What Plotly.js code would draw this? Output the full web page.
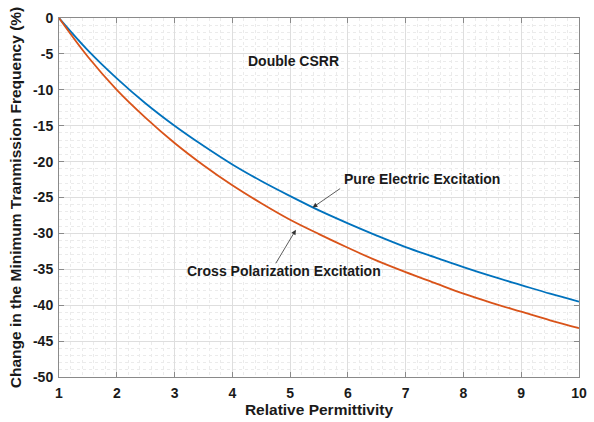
<!DOCTYPE html>
<html>
<head>
<meta charset="utf-8">
<script src="https://cdn.plot.ly/plotly-3.0.1.min.js"></script>
<style>html,body{margin:0;padding:0;background:#fff;}#chart{width:594px;height:422px;}</style>
</head>
<body>
<div id="chart"></div>
<script>
const permittivity = [1, 1.5, 2, 2.5, 3, 3.5, 4, 4.5, 5, 5.5, 6, 6.5, 7, 7.5, 8, 8.5, 9, 9.5, 10];
const pureElectric = [0, -4.5, -8.4, -11.9, -15.0, -17.8, -20.4, -22.7, -24.8, -26.8, -28.6, -30.3, -31.9, -33.3, -34.7, -36.0, -37.2, -38.4, -39.5];
const crossPolarization = [0, -5.4, -10.0, -13.9, -17.4, -20.5, -23.3, -25.8, -28.1, -30.1, -32.0, -33.8, -35.4, -36.9, -38.4, -39.7, -40.9, -42.1, -43.2];
const xTicks = [1, 2, 3, 4, 5, 6, 7, 8, 9, 10];
const yTicks = [0, -5, -10, -15, -20, -25, -30, -35, -40, -45, -50];

const font = 'Arial, "Liberation Sans", sans-serif';
const traces = [
  {x: permittivity, y: pureElectric, mode: 'lines', line: {color: '#0072BD', width: 1.8, shape: 'spline'}, name: 'Pure Electric Excitation'},
  {x: permittivity, y: crossPolarization, mode: 'lines', line: {color: '#D95319', width: 1.8, shape: 'spline'}, name: 'Cross Polarization Excitation'}
];
const axisCommon = {
  showline: true, linecolor: '#8a8a8a', linewidth: 1, mirror: 'ticks',
  ticks: 'inside', ticklen: 5, tickcolor: '#8a8a8a', tickwidth: 1,
  showgrid: true, gridcolor: '#dedede', gridwidth: 1,
  zeroline: false,
  tickfont: {family: font, size: 14, color: '#1a1a1a', weight: 'bold'}
};
const layout = {
  width: 594, height: 422,
  margin: {l: 59, r: 15, t: 18, b: 45},
  paper_bgcolor: '#ffffff', plot_bgcolor: '#ffffff',
  showlegend: false,
  xaxis: Object.assign({}, axisCommon, {
    range: [1, 10], tickvals: xTicks, ticktext: xTicks.map(String),
    ticklabelstandoff: 3,
    minor: {dtick: 0.2, showgrid: true, gridcolor: '#ebebeb', griddash: 'dot', gridwidth: 1},
    title: {text: 'Relative Permittivity', font: {family: font, size: 15.5, color: '#1a1a1a', weight: 'bold'}, standoff: 2}
  }),
  yaxis: Object.assign({}, axisCommon, {
    range: [-50, 0], tickvals: yTicks, ticktext: yTicks.map(String),
    ticklabelstandoff: 2,
    minor: {dtick: 1, showgrid: true, gridcolor: '#ebebeb', griddash: 'dot', gridwidth: 1},
    title: {text: 'Change in the Minimum Tranmission Frequency (%)', font: {family: font, size: 15.5, color: '#1a1a1a', weight: 'bold'}, standoff: 7}
  }),
  annotations: [
    {x: 5.05, y: -5.95, xref: 'x', yref: 'y', text: 'Double CSRR', showarrow: false,
     font: {family: font, size: 14, color: '#1a1a1a', weight: 'bold'}},
    {x: 7.28, y: -22.4, xref: 'x', yref: 'y', text: 'Pure Electric Excitation', showarrow: false,
     font: {family: font, size: 14, color: '#1a1a1a', weight: 'bold'}},
    {x: 4.89, y: -35.3, xref: 'x', yref: 'y', text: 'Cross Polarization Excitation', showarrow: false,
     font: {family: font, size: 14, color: '#1a1a1a', weight: 'bold'}},
    {x: 5.39, y: -26.4, xref: 'x', yref: 'y', ax: 29, ay: -20, text: '', showarrow: true,
     arrowhead: 2, arrowsize: 1.2, arrowwidth: 0.8, arrowcolor: '#333333'},
    {x: 5.1, y: -29.5, xref: 'x', yref: 'y', ax: -21, ay: 35, text: '', showarrow: true,
     arrowhead: 2, arrowsize: 1.2, arrowwidth: 0.8, arrowcolor: '#333333'}
  ]
};
Plotly.newPlot('chart', traces, layout, {staticPlot: true, displayModeBar: false});
</script>
</body>
</html>
